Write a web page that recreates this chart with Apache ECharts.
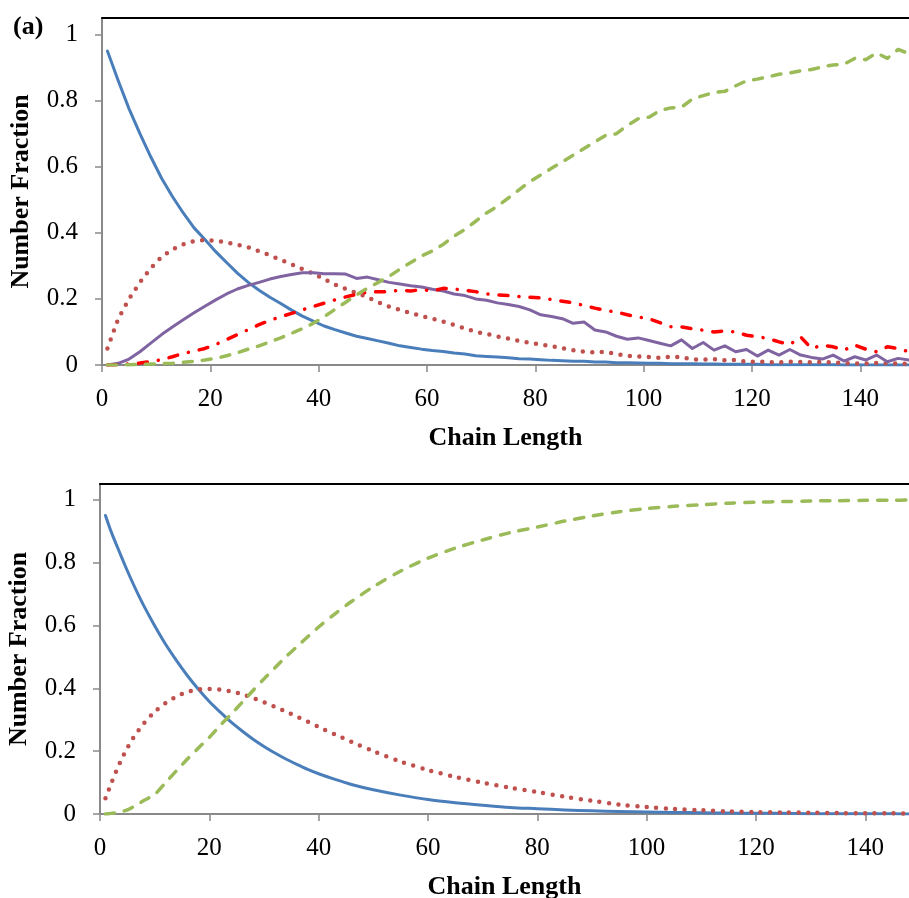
<!DOCTYPE html>
<html>
<head>
<meta charset="utf-8">
<script src="https://cdn.jsdelivr.net/npm/echarts@6/dist/echarts.min.js"></script>
<style>
html,body{margin:0;padding:0;background:#fff;}
#main{width:909px;height:898px;}
</style>
</head>
<body>
<div id="main"></div>
<script>
// ---------- data ----------
const xTicks = [0, 20, 40, 60, 80, 100, 120, 140];
const yTicks = [0, 0.2, 0.4, 0.6, 0.8, 1];

// top panel (a): simulation
const topX = [1,3,5,7,9,11,13,15,17,19,21,23,25,27,29,31,33,35,37,39,41,43,45,47,49,51,53,55,57,59,61,63,65,67,69,71,73,75,77,79,81,83,85,87,89,91,93,95,97,99,101,103,105,107,109,111,113,115,117,119,121,123,125,127,129,131,133,135,137,139,141,143,145,147,149];
const topBlue = [0.95,0.86,0.775,0.70,0.63,0.565,0.51,0.46,0.415,0.38,
  0.343,0.31,0.278,0.25,0.226,0.205,0.186,0.166,0.148,0.133,
  0.118,0.107,0.097,0.087,0.08,0.073,0.066,0.058,0.053,0.048,
  0.044,0.041,0.036,0.033,0.028,0.026,0.024,0.022,0.019,0.018,
  0.016,0.014,0.013,0.011,0.011,0.009,0.009,0.007,0.007,0.006,
  0.005,0.005,0.004,0.004,0.004,0.003,0.003,0.002,0.002,0.002,
  0.002,0.001,0.001,0.001,0.001,0.001,0.001,0.001,0,0,
  0,0,0,0,0];
const topRedDot = [0.05,0.14,0.2,0.25,0.293,0.327,0.35,0.365,0.375,0.378,
  0.376,0.371,0.364,0.356,0.344,0.332,0.318,0.305,0.29,0.277,
  0.26,0.243,0.23,0.218,0.205,0.19,0.177,0.167,0.157,0.148,
  0.14,0.131,0.121,0.111,0.1,0.094,0.086,0.08,0.073,0.067,
  0.062,0.057,0.051,0.045,0.04,0.038,0.04,0.033,0.028,0.026,
  0.024,0.022,0.025,0.024,0.017,0.016,0.018,0.014,0.015,0.01,
  0.01,0.009,0.008,0.01,0.009,0.008,0.01,0.007,0.006,0.005,
  0.004,0.006,0.005,0.004,0.004];
const topPurple = [0,0.005,0.018,0.04,0.066,0.092,0.115,0.137,0.158,0.178,
  0.197,0.215,0.23,0.241,0.25,0.26,0.268,0.274,0.279,0.279,
  0.276,0.276,0.275,0.262,0.266,0.258,0.25,0.245,0.24,0.236,
  0.229,0.224,0.215,0.21,0.2,0.196,0.188,0.183,0.177,0.167,
  0.152,0.147,0.14,0.126,0.13,0.106,0.1,0.087,0.078,0.082,
  0.074,0.066,0.058,0.076,0.05,0.068,0.045,0.058,0.04,0.047,
  0.027,0.045,0.03,0.047,0.03,0.023,0.018,0.03,0.012,0.025,
  0.015,0.03,0.01,0.02,0.015];
const topRedDashDot = [0,0.001,0.003,0.006,0.01,0.016,0.025,0.035,0.042,0.05,
  0.062,0.077,0.092,0.107,0.122,0.135,0.146,0.156,0.167,0.177,
  0.187,0.197,0.206,0.214,0.22,0.222,0.222,0.226,0.224,0.228,
  0.224,0.232,0.23,0.226,0.222,0.215,0.212,0.21,0.207,0.205,
  0.203,0.198,0.193,0.188,0.18,0.172,0.165,0.16,0.152,0.145,
  0.14,0.128,0.116,0.115,0.11,0.105,0.1,0.103,0.1,0.09,
  0.086,0.08,0.07,0.062,0.085,0.05,0.06,0.055,0.045,0.06,
  0.048,0.04,0.055,0.05,0.04];
const topGreen = [0,0,0.001,0.002,0.003,0.004,0.005,0.008,0.011,0.015,
  0.02,0.028,0.037,0.048,0.058,0.07,0.082,0.096,0.11,0.126,
  0.146,0.168,0.19,0.212,0.232,0.25,0.268,0.29,0.31,0.33,
  0.345,0.365,0.39,0.41,0.435,0.46,0.48,0.505,0.53,0.555,
  0.575,0.595,0.615,0.635,0.655,0.675,0.695,0.7,0.725,0.745,
  0.75,0.77,0.778,0.78,0.805,0.815,0.825,0.828,0.845,0.86,
  0.865,0.872,0.88,0.884,0.89,0.894,0.902,0.908,0.91,0.928,
  0.924,0.944,0.928,0.955,0.942];

// bottom panel: model
const botX = [1,2,3,4,5,6,7,8,10,12,14,16,18,20,22,24,26,28,30,32,34,36,38,40,43,46,50,55,60,65,70,75,80,85,90,95,100,105,110,115,120,125,130,135,140,145,148];
const botBlue = [0.95,0.9,0.857,0.815,0.774,0.735,0.698,0.663,
  0.599,0.54,0.488,0.44,0.397,0.358,0.324,0.292,0.264,0.238,0.215,0.194,0.175,0.158,0.142,0.128,
  0.11,0.094,
  0.077,0.06,0.046,0.036,0.028,0.021,0.017,0.013,0.01,0.008,0.006,0.005,0.004,0.003,0.002,0.002,0.001,0.001,0.001,0.001,
  0];
const botRedDot = [0.05,0.095,0.138,0.176,0.21,0.24,0.265,0.288,
  0.325,0.353,0.374,0.388,0.396,0.398,0.396,0.39,0.381,0.369,0.356,0.341,0.326,0.31,0.294,0.277,
  0.253,0.23,
  0.2,0.167,0.14,0.118,0.1,0.084,0.07,0.055,0.042,0.03,0.022,0.016,0.012,0.008,0.006,0.005,0.004,0.003,0.002,0.002,
  0.001];
const botGreen = [0,0.002,0.004,0.008,0.013,0.022,0.032,0.043,
  0.062,0.1,0.138,0.175,0.21,0.244,0.282,0.318,0.355,0.393,0.43,0.465,0.5,0.532,0.564,0.595,
  0.637,0.676,
  0.723,0.773,0.814,0.846,0.872,0.895,0.913,0.932,0.948,0.962,0.972,0.979,0.984,0.989,0.992,0.994,0.996,0.997,0.998,0.998,
  0.999];

// ---------- styles ----------
const FONT = 'Liberation Serif';
const AXIS_GRAY = '#898989';
const C_BLUE = '#4A7EBB', C_RED = '#C0504D', C_GREEN = '#9BBB59', C_PURPLE = '#8064A2', C_RED2 = '#FF0000';

function pairs(xs, ys){ return xs.map((x,i)=>[x, ys[i]]); }

function xAxisMain(grid, max){
  return {
    type:'value', gridIndex:grid, min:0, max:max, interval:20, position:'bottom',
    name:'Chain Length', nameLocation:'middle', nameGap:60,
    nameTextStyle:{fontFamily:FONT, fontWeight:'bold', fontSize:26, color:'#000'},
    axisLine:{show:true, onZero:false, lineStyle:{color:AXIS_GRAY, width:2}},
    axisTick:{show:true, inside:false, length:7, lineStyle:{color:AXIS_GRAY, width:1.5}, customValues:xTicks},
    axisLabel:{fontFamily:FONT, fontSize:25, color:'#000', margin:22, customValues:xTicks},
    splitLine:{show:false}
  };
}
function xAxisTop(grid, max){
  return {
    type:'value', gridIndex:grid, min:0, max:max, position:'top',
    axisLine:{show:true, onZero:false, lineStyle:{color:'#000', width:2}},
    axisTick:{show:false}, axisLabel:{show:false}, splitLine:{show:false}
  };
}
function yAxisMain(grid){
  return {
    type:'value', gridIndex:grid, min:0, max:1.05, interval:0.2,
    name:'Number Fraction', nameLocation:'middle', nameGap:68, nameRotate:90,
    nameTextStyle:{fontFamily:FONT, fontWeight:'bold', fontSize:26, color:'#000'},
    axisLine:{show:true, onZero:false, lineStyle:{color:AXIS_GRAY, width:2}},
    axisTick:{show:true, inside:false, length:7, lineStyle:{color:AXIS_GRAY, width:1.5}, customValues:yTicks},
    axisLabel:{fontFamily:FONT, fontSize:25, color:'#000', margin:24, customValues:yTicks,
      formatter:function(v){ return String(Math.round(v*10)/10); }},
    splitLine:{show:false}
  };
}

function lineSeries(xi, yi, xs, ys, color, width, type, cap, z){
  return {
    type:'line', xAxisIndex:xi, yAxisIndex:yi, data:pairs(xs, ys),
    showSymbol:false, symbol:'none', smooth:false, z:z||2,
    lineStyle:{color:color, width:width, type:type, cap:cap||'butt', join:'round'}
  };
}
function smoothSeries(xi, yi, xs, ys, color, width, type, cap, z){
  const s = lineSeries(xi, yi, xs, ys, color, width, type, cap, z);
  s.smooth = 0.3;
  return s;
}

const DOT = [0, 9.5];
const DASH = [9, 10];
const DASHDOT = [9, 11, 0.1, 11];

const option = {
  animation:false,
  backgroundColor:'#fff',
  grid:[
    {left:102, top:18, width:807, height:347, containLabel:false, outerBoundsMode:'none'},
    {left:100, top:484, width:809, height:330, containLabel:false, outerBoundsMode:'none'}
  ],
  xAxis:[ xAxisMain(0,149), xAxisMain(1,148), xAxisTop(0,149), xAxisTop(1,148) ],
  yAxis:[ yAxisMain(0), yAxisMain(1) ],
  graphic:[{
    type:'text', left:13, top:14,
    style:{text:'(a)', font:'bold 26px "Liberation Serif"', fill:'#000'}
  }],
  series:[
    lineSeries(0,0, topX, topBlue, C_BLUE, 3, 'solid', 'round', 2),
    lineSeries(0,0, topX, topRedDot, C_RED, 4.5, DOT, 'round', 3),
    lineSeries(0,0, topX, topPurple, C_PURPLE, 3, 'solid', 'round', 4),
    lineSeries(0,0, topX, topRedDashDot, C_RED2, 3.5, DASHDOT, 'round', 5),
    lineSeries(0,0, topX, topGreen, C_GREEN, 3.5, DASH, 'round', 6),
    smoothSeries(1,1, botX, botBlue, C_BLUE, 3, 'solid', 'round', 2),
    smoothSeries(1,1, botX, botRedDot, C_RED, 4.5, DOT, 'round', 3),
    smoothSeries(1,1, botX, botGreen, C_GREEN, 3.5, DASH, 'round', 4)
  ]
};

const chart = echarts.init(document.getElementById('main'), null, {renderer:'canvas'});
chart.setOption(option);
</script>
</body>
</html>
